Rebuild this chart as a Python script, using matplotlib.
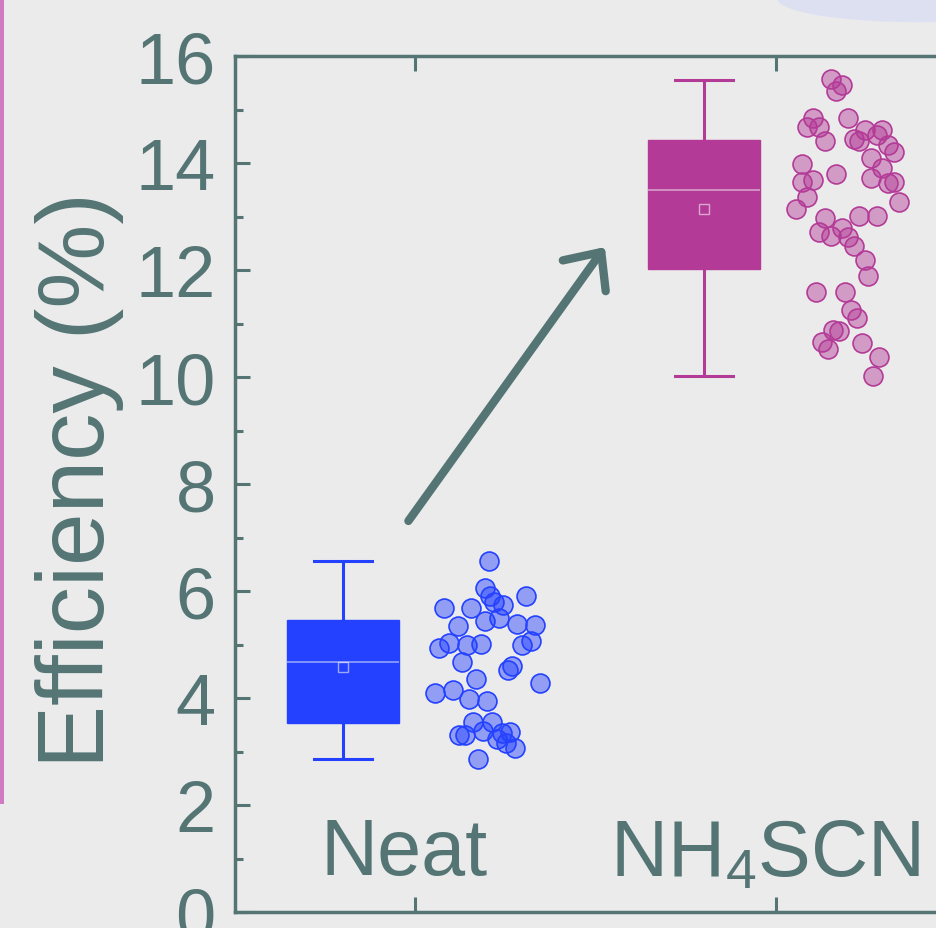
import matplotlib
matplotlib.use('Agg')
import matplotlib.pyplot as plt
from matplotlib.colors import to_rgba
from matplotlib.patches import Rectangle, Ellipse

plt.rcParams['font.family'] = ['Liberation Sans', 'DejaVu Sans']
plt.rcParams['mathtext.fontset'] = 'custom'
plt.rcParams['mathtext.rm'] = 'Liberation Sans'
plt.rcParams['mathtext.it'] = 'Liberation Sans:italic'

# data
groups = ['Neat', r'NH$_\mathregular{4}$SCN']
colors = ['#2441ff', '#b33b97']
box_q1 = [3.53, 12.02]
box_med = [4.67, 13.50]
box_q3 = [5.46, 14.43]
box_mean = [4.58, 13.14]
whisk_lo = [2.86, 10.02]
whisk_hi = [6.56, 15.55]

neat_vals = [6.56, 6.06, 5.91, 5.79, 5.74, 5.91, 5.68, 5.68, 5.44, 5.50, 5.35, 5.38, 5.36,
             4.93, 5.03, 4.99, 5.01, 4.99, 5.07, 4.67, 4.60, 4.52, 4.28, 4.36, 4.09, 4.15,
             3.98, 3.94, 3.55, 3.55, 3.31, 3.31, 3.38, 3.23, 3.35, 3.36, 3.16, 3.07, 2.86]
neat_jitter = [0.205, 0.194, 0.208, 0.219, 0.244, 0.307, 0.080, 0.155, 0.194, 0.233, 0.119,
               0.283, 0.332, 0.066, 0.094, 0.144, 0.183, 0.296, 0.321, 0.130, 0.269, 0.258,
               0.346, 0.169, 0.055, 0.105, 0.150, 0.199, 0.161, 0.213, 0.122, 0.139, 0.188,
               0.227, 0.241, 0.263, 0.252, 0.277, 0.175]

scn_vals = [15.57, 15.46, 15.35, 14.84, 14.67, 14.67, 14.41, 14.84, 14.62, 14.62, 14.52, 14.45,
            14.41, 14.34, 14.21, 14.09, 13.91, 13.98, 13.79, 13.64, 13.68, 13.72, 13.63, 13.64,
            13.36, 13.14, 13.28, 12.97, 13.01, 13.01, 12.71, 12.64, 12.79, 12.62, 12.45, 12.19,
            11.89, 11.59, 11.59, 11.25, 11.10, 10.88, 10.86, 10.65, 10.52, 10.64, 10.37, 10.02]
scn_jitter = [0.152, 0.183, 0.166, 0.102, 0.086, 0.119, 0.136, 0.199, 0.247, 0.296, 0.280, 0.216,
              0.230, 0.310, 0.327, 0.263, 0.296, 0.072, 0.166, 0.072, 0.102, 0.263, 0.310, 0.327,
              0.086, 0.055, 0.343, 0.136, 0.230, 0.280, 0.119, 0.152, 0.183, 0.199, 0.216, 0.247,
              0.255, 0.111, 0.191, 0.208, 0.224, 0.158, 0.175, 0.127, 0.144, 0.238, 0.285, 0.271]

points = [(neat_vals, neat_jitter), (scn_vals, scn_jitter)]

ink = '#557575'
bg = '#ebebeb'

fig = plt.figure(figsize=(9.37, 9.29), dpi=100, facecolor=bg)
ax = fig.add_axes([0.2508, 0.0172, 0.7695, 0.9214])
ax.set_facecolor(bg)

# box plots, shifted left of each category
for i in range(2):
    stats = [{'med': box_med[i], 'q1': box_q1[i], 'q3': box_q3[i], 'mean': box_mean[i],
              'whislo': whisk_lo[i], 'whishi': whisk_hi[i], 'fliers': []}]
    c = colors[i]
    ax.bxp(stats, positions=[i + 1 - 0.2], widths=0.31, capwidths=0.16,
           patch_artist=True, showmeans=True, showfliers=False,
           boxprops=dict(facecolor=c, edgecolor=c, linewidth=1),
           whiskerprops=dict(color=c, linewidth=2.2),
           capprops=dict(color=c, linewidth=2.2),
           medianprops=dict(color=(1, 1, 1, 0.5), linewidth=1.2),
           meanprops=dict(marker='s', markersize=6.5, markerfacecolor='none',
                          markeredgecolor=(1, 1, 1, 0.55), markeredgewidth=1))

# individual points, right of each box
for i, (vals, jit) in enumerate(points):
    xs = [i + 1 + j for j in jit]
    ax.scatter(xs, vals, s=185, facecolor=to_rgba(colors[i], 0.45),
               edgecolor=colors[i], linewidth=1.2, zorder=3)

# arrow between groups
ax.annotate('', xy=(1.526, 12.43), xytext=(0.981, 7.31),
            arrowprops=dict(arrowstyle='->,head_length=2.1,head_width=1.9',
                            mutation_scale=10, color=ink, lw=6,
                            capstyle='round', joinstyle='round',
                            shrinkA=0, shrinkB=0))

ax.set_xlim(0.5, 2.5)
ax.set_ylim(0, 16)
ax.set_yticks(range(0, 17, 2))
ax.set_yticks(range(1, 16, 2), minor=True)
ax.set_xticks([1, 2])
ax.set_xticklabels(['', ''])

for s in ax.spines.values():
    s.set_color(ink)
    s.set_linewidth(2.5)

ax.tick_params(axis='both', which='major', direction='in', length=11, width=2.2,
               color=ink, labelcolor=ink, labelsize=52, pad=14,
               top=True, right=True)
ax.tick_params(axis='y', which='minor', direction='in', length=5.5, width=2.2,
               color=ink, right=True)

# category labels drawn inside the frame
for i, name in enumerate(groups):
    ax.text(i + 1 - 0.03, 0.71, name, ha='center', va='baseline',
            fontsize=57, color=ink)

fig.text(80 / 937, 1 - 480 / 929, 'Efficiency (%)', rotation=90, ha='center',
         va='center', fontsize=68, color=ink)

# page decorations around the crop
fig.patches.append(Rectangle((0, 1 - 805 / 929), 4 / 937, 805 / 929,
                             transform=fig.transFigure, facecolor='#d07ac3',
                             edgecolor='none'))
fig.patches.append(Ellipse((0.98, 1.0), 0.30, 0.05, transform=fig.transFigure,
                           facecolor='#dcdff2', edgecolor='none', alpha=0.9))

fig.savefig('out.png', dpi=100, facecolor=bg)
